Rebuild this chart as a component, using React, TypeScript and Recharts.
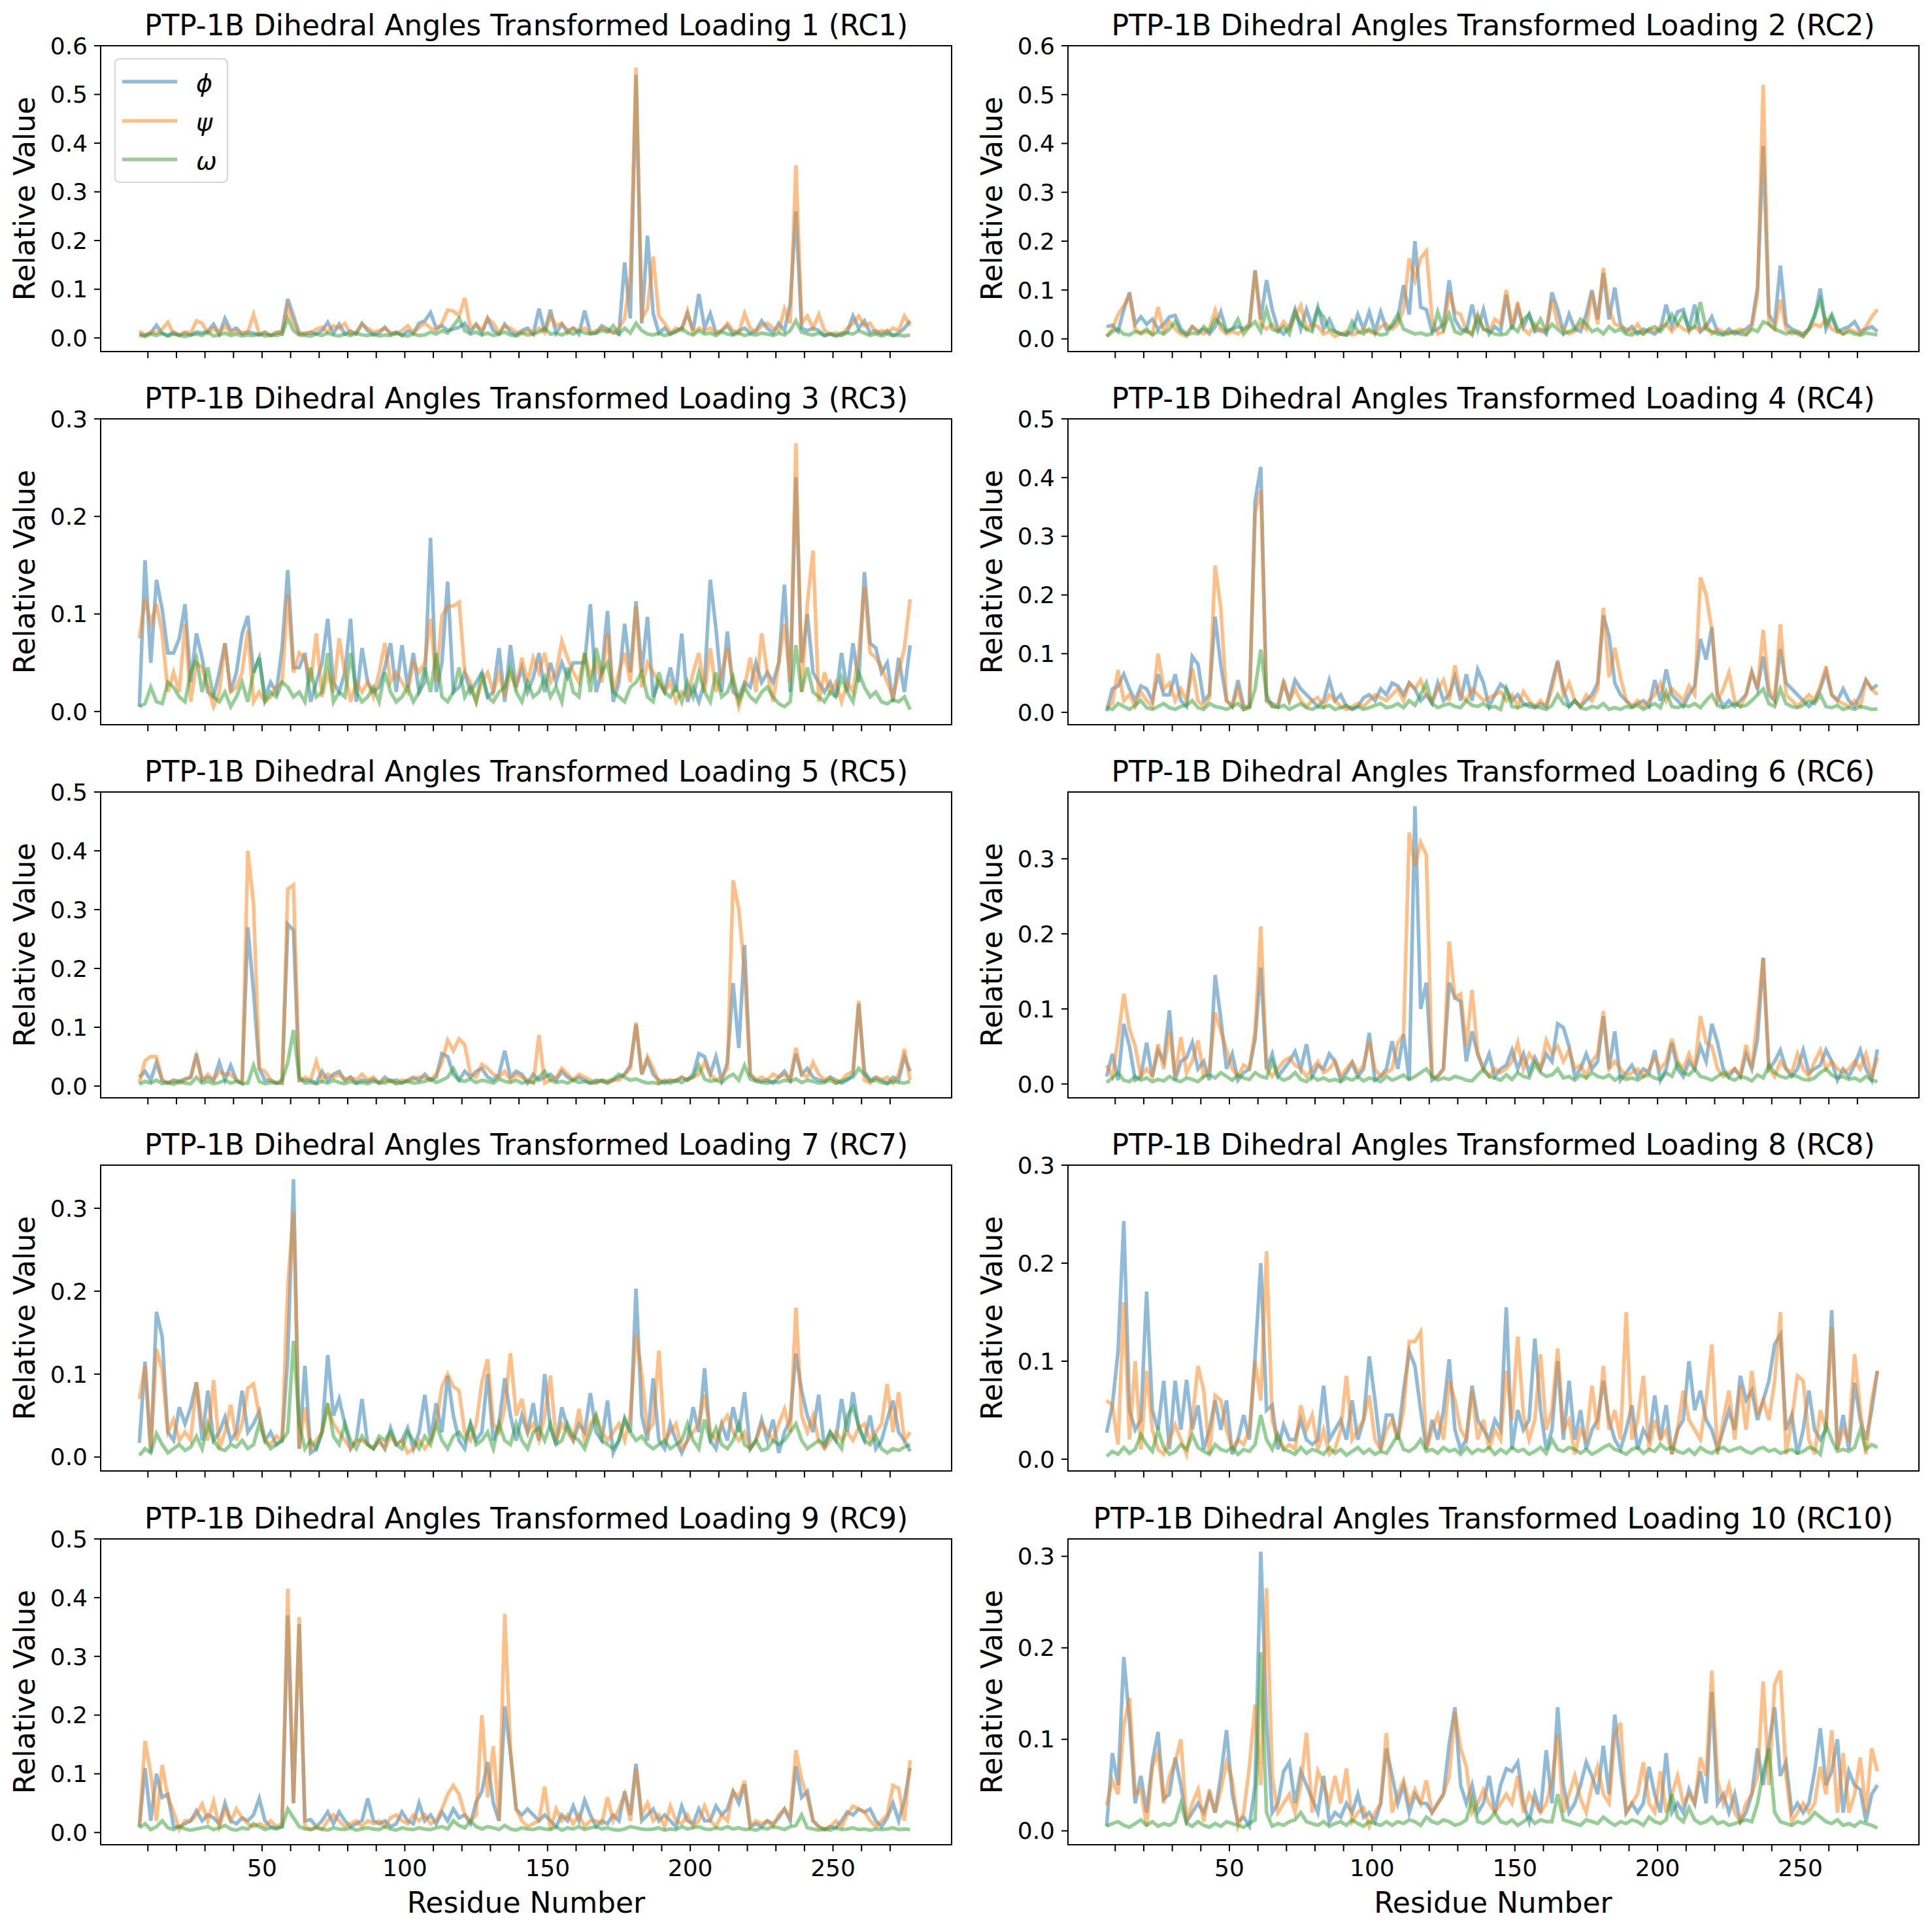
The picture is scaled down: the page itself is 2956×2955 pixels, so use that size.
import { LineChart, Line, XAxis, YAxis, ReferenceArea } from 'recharts'

// residue numbers sampled (every other residue)
const residues = [
  7, 9, 11, 13, 15, 17, 19, 21, 23, 25, 27, 29, 31, 33, 35, 37, 39, 41, 43, 45,
  47, 49, 51, 53, 55, 57, 59, 61, 63, 65, 67, 69, 71, 73, 75, 77, 79, 81, 83, 85,
  87, 89, 91, 93, 95, 97, 99, 101, 103, 105, 107, 109, 111, 113, 115, 117, 119, 121, 123, 125,
  127, 129, 131, 133, 135, 137, 139, 141, 143, 145, 147, 149, 151, 153, 155, 157, 159, 161, 163, 165,
  167, 169, 171, 173, 175, 177, 179, 181, 183, 185, 187, 189, 191, 193, 195, 197, 199, 201, 203, 205,
  207, 209, 211, 213, 215, 217, 219, 221, 223, 225, 227, 229, 231, 233, 235, 237, 239, 241, 243, 245,
  247, 249, 251, 253, 255, 257, 259, 261, 263, 265, 267, 269, 271, 273, 275, 277,
]

const xTicks = [10, 20, 30, 40, 50, 60, 70, 80, 90, 100, 110, 120, 130, 140, 150, 160, 170, 180, 190, 200, 210, 220, 230, 240, 250, 260, 270]

// values in thousandths
const rc1Phi = [
  8, 6, 10, 26, 9, 5, 12, 6, 10, 6, 12, 10, 14, 28, 8, 40, 15, 20, 8, 12,
  10, 6, 12, 5, 10, 14, 80, 45, 10, 8, 12, 8, 15, 32, 10, 28, 8, 14, 8, 30,
  15, 6, 10, 22, 8, 12, 5, 14, 10, 30, 35, 52, 20, 25, 15, 18, 22, 30, 12, 28,
  10, 40, 15, 8, 28, 12, 6, 15, 20, 8, 60, 12, 58, 10, 28, 15, 20, 8, 56, 10,
  10, 25, 18, 12, 8, 155, 40, 540, 30, 210, 50, 10, 20, 8, 15, 20, 50, 15, 90, 20,
  50, 10, 15, 25, 8, 15, 20, 10, 15, 35, 20, 10, 30, 15, 70, 260, 20, 15, 20, 15,
  5, 8, 5, 10, 12, 45, 20, 35, 10, 15, 8, 15, 5, 10, 20, 35,
]
const rc1Psi = [
  14, 5, 12, 10, 18, 32, 8, 6, 12, 10, 35, 30, 10, 20, 8, 25, 10, 15, 10, 12,
  48, 8, 10, 5, 12, 8, 65, 30, 8, 10, 10, 18, 22, 12, 25, 20, 30, 8, 12, 28,
  20, 12, 15, 20, 10, 8, 15, 25, 10, 22, 30, 20, 15, 30, 57, 55, 45, 82, 20, 28,
  15, 40, 30, 10, 25, 20, 12, 10, 15, 8, 20, 10, 45, 25, 30, 10, 20, 15, 20, 10,
  15, 20, 15, 10, 20, 40, 125, 555, 40, 60, 167, 45, 30, 10, 20, 15, 55, 10, 20, 15,
  20, 10, 15, 30, 15, 10, 50, 20, 12, 25, 30, 20, 15, 60, 30, 355, 30, 45, 20, 48,
  15, 8, 10, 5, 20, 30, 45, 25, 30, 10, 15, 10, 20, 15, 45, 25,
]
const rc1Omega = [
  5, 3, 8, 5, 10, 4, 8, 5, 3, 6, 8, 5, 12, 4, 6, 10, 5, 8, 4, 6,
  5, 8, 4, 6, 5, 8, 40, 15, 6, 5, 4, 8, 5, 10, 6, 4, 8, 5, 10, 6,
  5, 8, 4, 6, 5, 10, 6, 4, 8, 5, 6, 12, 8, 15, 10, 25, 40, 15, 8, 12,
  6, 10, 5, 8, 12, 6, 4, 10, 6, 8, 12, 20, 8, 10, 6, 12, 8, 15, 10, 8,
  10, 15, 12, 25, 8, 20, 10, 30, 15, 8, 6, 10, 5, 8, 12, 20, 10, 6, 15, 8,
  10, 5, 12, 8, 6, 10, 5, 8, 6, 10, 8, 5, 10, 6, 15, 35, 12, 8, 6, 10,
  5, 8, 4, 6, 10, 8, 15, 10, 5, 8, 4, 8, 5, 6, 4, 6,
]

const rc2Phi = [
  25, 28, 15, 60, 95, 30, 45, 30, 40, 20, 30, 45, 48, 20, 10, 25, 15, 20, 10, 25,
  55, 15, 20, 25, 20, 30, 140, 40, 120, 60, 20, 10, 25, 60, 20, 60, 25, 65, 20, 40,
  15, 10, 8, 15, 50, 20, 55, 15, 55, 20, 25, 40, 110, 50, 200, 65, 60, 15, 20, 30,
  120, 40, 20, 15, 70, 20, 60, 10, 25, 15, 90, 20, 65, 25, 50, 15, 20, 10, 95, 60,
  15, 50, 20, 15, 50, 100, 40, 135, 40, 105, 30, 15, 25, 10, 20, 15, 10, 20, 70, 25,
  55, 60, 20, 70, 15, 25, 45, 15, 10, 20, 10, 15, 20, 30, 105, 395, 50, 30, 150, 30,
  20, 15, 10, 20, 45, 103, 20, 45, 15, 20, 25, 35, 15, 20, 25, 15,
]
const rc2Psi = [
  5, 20, 50, 68, 88, 20, 10, 15, 10, 65, 15, 35, 20, 10, 5, 25, 15, 10, 20, 58,
  20, 10, 15, 10, 20, 25, 140, 30, 20, 30, 15, 35, 20, 45, 68, 20, 30, 25, 10, 15,
  5, 10, 15, 8, 12, 20, 15, 10, 25, 30, 20, 30, 60, 165, 120, 165, 180, 40, 10, 15,
  95, 55, 50, 15, 10, 50, 20, 15, 40, 30, 100, 25, 75, 20, 10, 30, 15, 20, 80, 30,
  20, 10, 15, 30, 20, 95, 30, 145, 60, 30, 25, 20, 15, 30, 10, 20, 15, 25, 30, 15,
  30, 20, 15, 25, 15, 30, 10, 20, 15, 10, 15, 20, 10, 25, 90, 520, 30, 20, 80, 20,
  10, 15, 5, 20, 30, 25, 40, 20, 15, 10, 20, 15, 10, 25, 45, 60,
]
const rc2Omega = [
  5, 15, 20, 10, 8, 15, 12, 20, 8, 15, 10, 20, 35, 15, 8, 12, 10, 25, 15, 40,
  30, 15, 20, 40, 10, 25, 35, 15, 60, 20, 15, 25, 10, 55, 30, 20, 15, 60, 45, 20,
  15, 10, 8, 35, 15, 10, 20, 12, 8, 10, 30, 50, 20, 15, 10, 12, 8, 10, 55, 20,
  50, 15, 10, 20, 8, 45, 20, 15, 10, 8, 10, 25, 15, 40, 50, 20, 40, 15, 30, 20,
  10, 15, 20, 40, 30, 15, 20, 10, 25, 15, 20, 10, 8, 15, 10, 20, 25, 15, 30, 50,
  30, 50, 20, 25, 75, 20, 15, 10, 8, 12, 15, 10, 8, 20, 15, 35, 30, 20, 15, 10,
  15, 10, 5, 20, 50, 80, 30, 50, 20, 10, 15, 10, 8, 12, 10, 8,
]

const rc3Phi = [
  5, 155, 50, 135, 105, 60, 60, 75, 110, 30, 80, 55, 20, 15, 40, 70, 20, 40, 80, 98,
  40, 55, 15, 30, 20, 65, 145, 45, 45, 60, 10, 30, 50, 95, 30, 20, 40, 95, 10, 65,
  30, 20, 25, 45, 70, 20, 68, 25, 60, 20, 30, 178, 20, 50, 133, 20, 25, 40, 20, 30,
  40, 15, 20, 65, 10, 68, 25, 45, 20, 35, 60, 20, 50, 30, 50, 35, 50, 50, 50, 110,
  20, 40, 103, 10, 30, 90, 40, 113, 40, 97, 15, 30, 20, 45, 20, 80, 10, 25, 10, 30,
  135, 85, 20, 82, 20, 15, 30, 25, 50, 30, 40, 30, 50, 130, 20, 240, 50, 100, 40, 30,
  20, 30, 15, 60, 20, 70, 30, 143, 70, 65, 40, 50, 10, 55, 20, 68,
]
const rc3Psi = [
  75, 115, 90, 110, 80, 20, 40, 20, 90, 10, 50, 45, 25, 5, 20, 70, 20, 25, 40, 83,
  10, 20, 10, 15, 25, 30, 120, 40, 60, 55, 30, 80, 15, 40, 20, 75, 40, 10, 30, 20,
  30, 15, 40, 70, 30, 40, 30, 20, 50, 40, 50, 95, 30, 98, 108, 108, 112, 40, 30, 10,
  30, 40, 20, 40, 15, 40, 25, 55, 30, 55, 40, 60, 30, 40, 72, 55, 40, 30, 60, 35,
  50, 30, 80, 20, 40, 60, 30, 108, 25, 50, 40, 30, 20, 30, 10, 20, 15, 40, 60, 20,
  65, 20, 40, 65, 30, 5, 25, 55, 20, 80, 40, 10, 50, 90, 30, 275, 20, 110, 165, 10,
  40, 20, 30, 10, 30, 20, 60, 128, 60, 55, 45, 30, 15, 40, 65, 115,
]
const rc3Omega = [
  5, 8, 25, 10, 8, 30, 25, 15, 10, 40, 55, 20, 45, 15, 10, 20, 5, 15, 30, 10,
  40, 55, 10, 20, 15, 30, 25, 15, 20, 10, 45, 15, 20, 60, 10, 20, 15, 60, 20, 10,
  15, 25, 10, 40, 20, 10, 15, 25, 10, 20, 45, 20, 60, 15, 10, 20, 45, 15, 25, 10,
  40, 15, 10, 20, 25, 45, 20, 10, 30, 15, 20, 35, 15, 25, 10, 45, 20, 15, 60, 20,
  65, 40, 50, 20, 15, 10, 25, 30, 40, 15, 10, 40, 20, 15, 25, 10, 30, 15, 40, 20,
  10, 40, 15, 20, 35, 10, 25, 15, 10, 20, 25, 15, 8, 5, 10, 68, 20, 45, 20, 15,
  10, 20, 15, 35, 20, 10, 40, 25, 15, 20, 10, 8, 12, 10, 15, 2,
]

const rc4Phi = [
  2, 40, 45, 65, 40, 20, 45, 40, 20, 65, 30, 30, 65, 20, 10, 95, 82, 20, 30, 163,
  80, 20, 10, 55, 10, 10, 360, 418, 20, 15, 10, 50, 20, 55, 40, 30, 20, 10, 20, 55,
  20, 30, 10, 5, 10, 25, 30, 20, 40, 30, 50, 45, 30, 50, 40, 20, 30, 15, 50, 20,
  30, 60, 20, 65, 20, 73, 50, 10, 30, 48, 40, 20, 30, 15, 10, 8, 15, 10, 50, 88,
  40, 10, 20, 10, 20, 30, 50, 165, 130, 50, 30, 20, 10, 15, 20, 10, 55, 20, 73, 30,
  20, 10, 30, 45, 125, 90, 145, 30, 10, 20, 10, 20, 30, 68, 40, 95, 30, 20, 108, 50,
  40, 30, 20, 10, 20, 40, 70, 30, 20, 40, 20, 10, 30, 55, 40, 47,
]
const rc4Psi = [
  8, 15, 72, 20, 30, 10, 35, 20, 10, 100, 40, 50, 20, 40, 20, 75, 20, 10, 25, 250,
  177, 20, 10, 40, 5, 10, 340, 378, 20, 10, 10, 55, 20, 40, 20, 10, 20, 25, 10, 30,
  20, 10, 5, 10, 15, 10, 20, 30, 25, 20, 30, 40, 20, 50, 40, 55, 30, 20, 40, 55,
  20, 80, 30, 20, 40, 30, 20, 25, 30, 35, 20, 30, 10, 35, 20, 10, 20, 10, 40, 85,
  30, 50, 20, 10, 30, 20, 40, 178, 60, 110, 60, 20, 10, 20, 10, 20, 30, 50, 20, 40,
  30, 20, 45, 30, 230, 200, 140, 20, 40, 68, 20, 10, 30, 70, 40, 140, 40, 20, 150, 30,
  20, 10, 20, 30, 20, 45, 78, 30, 20, 15, 10, 20, 10, 55, 40, 30,
]
const rc4Omega = [
  8, 5, 15, 10, 5, 12, 20, 8, 5, 10, 15, 8, 5, 10, 12, 20, 8, 5, 15, 10,
  8, 5, 10, 15, 5, 8, 40, 107, 30, 10, 8, 12, 5, 10, 15, 8, 5, 10, 8, 12,
  5, 8, 12, 6, 10, 5, 8, 12, 15, 8, 10, 15, 8, 20, 12, 30, 50, 15, 8, 12,
  15, 10, 8, 20, 12, 10, 15, 8, 10, 5, 40, 10, 8, 12, 15, 10, 8, 5, 12, 30,
  15, 10, 20, 8, 5, 10, 8, 15, 5, 8, 5, 10, 8, 12, 5, 10, 15, 8, 35, 10,
  8, 12, 10, 15, 8, 20, 30, 12, 8, 10, 15, 10, 12, 20, 30, 40, 15, 10, 40, 15,
  10, 8, 12, 20, 15, 30, 10, 8, 12, 5, 8, 5, 10, 8, 5, 6,
]

const rc5Phi = [
  15, 25, 10, 40, 10, 5, 10, 8, 12, 15, 55, 10, 15, 10, 40, 10, 35, 10, 5, 270,
  160, 30, 10, 10, 5, 5, 275, 265, 10, 10, 10, 5, 25, 10, 20, 25, 10, 15, 5, 10,
  8, 12, 5, 15, 8, 10, 5, 10, 15, 10, 20, 10, 15, 55, 50, 20, 10, 25, 15, 25,
  30, 15, 10, 20, 60, 15, 25, 20, 5, 20, 10, 15, 20, 10, 25, 15, 10, 15, 10, 5,
  10, 8, 5, 10, 15, 20, 35, 105, 20, 45, 20, 10, 5, 10, 8, 15, 10, 20, 55, 50,
  20, 50, 10, 40, 175, 65, 240, 20, 10, 8, 10, 5, 15, 25, 10, 55, 20, 30, 15, 10,
  8, 15, 10, 5, 10, 20, 140, 25, 10, 15, 10, 5, 15, 10, 50, 25,
]
const rc5Psi = [
  5, 43, 50, 50, 10, 5, 8, 5, 10, 15, 50, 10, 20, 10, 25, 20, 20, 10, 5, 400,
  310, 30, 25, 10, 5, 5, 335, 342, 10, 15, 10, 42, 10, 20, 15, 20, 10, 15, 10, 20,
  10, 15, 5, 10, 8, 5, 10, 8, 12, 15, 15, 10, 20, 40, 78, 60, 80, 70, 20, 15,
  37, 30, 20, 15, 25, 10, 20, 15, 10, 5, 87, 5, 10, 15, 30, 20, 10, 20, 15, 10,
  5, 10, 5, 10, 10, 20, 30, 108, 20, 50, 30, 5, 10, 8, 10, 15, 10, 15, 20, 40,
  20, 10, 15, 30, 350, 300, 195, 20, 10, 15, 10, 20, 15, 20, 10, 65, 20, 15, 40, 20,
  10, 15, 5, 10, 20, 25, 145, 10, 5, 15, 10, 15, 5, 20, 63, 10,
]
const rc5Omega = [
  3, 8, 5, 10, 4, 6, 3, 8, 5, 4, 15, 5, 8, 4, 6, 10, 5, 8, 4, 5,
  35, 8, 4, 6, 5, 10, 40, 95, 15, 5, 6, 4, 8, 5, 10, 6, 4, 8, 5, 6,
  4, 8, 6, 5, 10, 4, 6, 8, 5, 6, 8, 12, 6, 10, 15, 30, 10, 8, 12, 6,
  10, 8, 5, 12, 8, 6, 10, 5, 8, 6, 15, 25, 10, 6, 8, 5, 10, 6, 8, 5,
  6, 10, 8, 12, 20, 15, 10, 12, 8, 5, 6, 4, 8, 5, 10, 6, 12, 15, 35, 12,
  8, 10, 6, 15, 20, 10, 35, 12, 8, 6, 5, 8, 6, 10, 8, 12, 6, 10, 8, 5,
  6, 10, 5, 8, 12, 15, 30, 20, 8, 10, 6, 4, 8, 6, 5, 8,
]

const rc6Phi = [
  10, 40, 5, 80, 50, 5, 10, 55, 10, 45, 30, 98, 5, 30, 35, 55, 20, 30, 5, 145,
  87, 20, 40, 5, 15, 20, 60, 155, 20, 40, 10, 20, 30, 43, 20, 53, 10, 25, 20, 40,
  30, 5, 15, 28, 10, 20, 68, 5, 10, 20, 57, 20, 66, 5, 370, 100, 135, 5, 10, 20,
  135, 115, 110, 30, 70, 40, 20, 40, 10, 20, 25, 45, 20, 40, 15, 35, 20, 40, 30, 80,
  75, 50, 10, 20, 40, 20, 30, 90, 20, 70, 5, 15, 25, 10, 20, 15, 45, 5, 20, 55,
  20, 10, 30, 20, 50, 30, 80, 55, 20, 10, 20, 10, 40, 20, 60, 168, 20, 30, 45, 20,
  10, 20, 45, 15, 20, 25, 45, 30, 5, 20, 10, 25, 45, 20, 5, 46,
]
const rc6Psi = [
  25, 10, 60, 120, 73, 50, 10, 20, 10, 53, 20, 70, 10, 62, 15, 30, 58, 10, 20, 95,
  70, 45, 20, 10, 25, 20, 70, 210, 20, 10, 20, 30, 35, 25, 20, 10, 20, 30, 15, 20,
  30, 10, 20, 30, 15, 25, 57, 20, 10, 15, 20, 55, 65, 335, 290, 322, 305, 10, 10, 20,
  190, 115, 120, 50, 125, 40, 20, 10, 20, 15, 20, 30, 55, 20, 40, 30, 20, 58, 40, 50,
  30, 45, 20, 25, 10, 30, 40, 97, 20, 30, 20, 10, 15, 20, 10, 20, 35, 20, 30, 60,
  30, 20, 40, 20, 90, 55, 50, 20, 10, 15, 20, 10, 52, 20, 90, 168, 20, 10, 30, 20,
  15, 40, 20, 10, 30, 45, 20, 30, 20, 15, 20, 30, 20, 40, 10, 35,
]
const rc6Omega = [
  2, 8, 15, 5, 3, 10, 5, 8, 3, 6, 4, 10, 5, 3, 8, 6, 3, 10, 12, 8,
  15, 10, 5, 12, 8, 6, 15, 10, 8, 30, 10, 5, 8, 15, 6, 3, 10, 5, 8, 4,
  6, 3, 8, 5, 10, 4, 8, 6, 3, 10, 5, 8, 12, 6, 10, 15, 20, 10, 5, 8,
  6, 10, 8, 5, 4, 12, 20, 10, 8, 5, 12, 6, 15, 10, 8, 27, 15, 10, 12, 20,
  8, 10, 5, 12, 8, 15, 10, 8, 12, 5, 10, 6, 8, 5, 10, 12, 8, 6, 15, 10,
  27, 15, 12, 20, 10, 8, 5, 10, 15, 8, 5, 10, 8, 4, 12, 8, 25, 15, 10, 8,
  12, 10, 6, 5, 8, 15, 20, 12, 8, 10, 6, 8, 4, 10, 5, 3,
]

const rc7Phi = [
  17, 115, 5, 175, 145, 30, 20, 60, 40, 60, 90, 20, 80, 20, 30, 48, 20, 30, 80, 30,
  40, 55, 20, 30, 15, 20, 120, 335, 10, 110, 5, 10, 30, 123, 50, 70, 40, 10, 20, 70,
  15, 10, 20, 10, 35, 15, 20, 35, 10, 30, 75, 20, 65, 30, 98, 50, 20, 10, 40, 20,
  30, 100, 20, 40, 95, 50, 20, 50, 30, 65, 20, 100, 35, 15, 60, 35, 20, 40, 30, 77,
  30, 20, 68, 5, 20, 45, 30, 203, 50, 20, 95, 20, 10, 40, 20, 5, 20, 60, 30, 107,
  20, 10, 40, 20, 60, 30, 78, 10, 20, 45, 20, 45, 5, 30, 45, 125, 80, 50, 30, 75,
  10, 30, 20, 70, 30, 78, 35, 20, 50, 10, 20, 45, 68, 30, 20, 7,
]
const rc7Psi = [
  70, 110, 10, 130, 105, 30, 45, 20, 30, 20, 90, 40, 20, 93, 10, 30, 63, 20, 40, 83,
  88, 50, 20, 15, 25, 20, 207, 295, 10, 60, 10, 20, 30, 60, 40, 30, 20, 10, 20, 20,
  15, 10, 20, 10, 25, 15, 20, 5, 10, 20, 10, 20, 40, 85, 100, 85, 80, 30, 20, 40,
  90, 118, 40, 30, 60, 125, 50, 70, 30, 40, 20, 50, 98, 20, 40, 30, 20, 58, 20, 40,
  50, 30, 20, 30, 40, 20, 50, 148, 100, 30, 40, 128, 20, 30, 40, 10, 20, 30, 40, 75,
  30, 20, 40, 50, 30, 20, 30, 10, 20, 40, 30, 20, 40, 58, 30, 180, 50, 30, 50, 20,
  10, 20, 30, 20, 30, 20, 35, 40, 20, 30, 40, 88, 30, 78, 20, 30,
]
const rc7Omega = [
  2, 10, 5, 28, 15, 5, 10, 15, 8, 12, 25, 10, 40, 20, 10, 8, 15, 12, 20, 10,
  15, 40, 20, 10, 15, 20, 30, 140, 40, 10, 20, 10, 30, 65, 25, 15, 40, 20, 10, 25,
  15, 10, 25, 20, 30, 15, 10, 30, 20, 10, 25, 15, 40, 20, 10, 25, 30, 20, 40, 15,
  20, 30, 10, 40, 20, 15, 40, 20, 10, 30, 35, 20, 40, 15, 20, 40, 25, 20, 10, 30,
  50, 20, 15, 10, 20, 47, 30, 20, 25, 15, 10, 15, 20, 10, 15, 20, 40, 20, 10, 45,
  20, 35, 15, 10, 20, 40, 15, 10, 20, 8, 10, 20, 15, 20, 30, 40, 20, 10, 15, 20,
  15, 30, 20, 10, 50, 60, 38, 20, 15, 25, 10, 5, 10, 8, 12, 15,
]

const rc8Phi = [
  27, 55, 110, 243, 50, 30, 40, 171, 50, 30, 80, 10, 80, 30, 81, 30, 55, 10, 30, 60,
  30, 60, 5, 20, 45, 20, 105, 200, 50, 55, 10, 35, 20, 20, 40, 20, 15, 20, 75, 20,
  30, 40, 20, 60, 20, 40, 105, 60, 10, 45, 45, 20, 70, 110, 95, 50, 10, 40, 20, 50,
  102, 30, 10, 20, 75, 40, 30, 20, 40, 30, 155, 10, 50, 30, 40, 123, 50, 10, 30, 100,
  20, 80, 20, 50, 10, 30, 40, 80, 40, 20, 10, 30, 55, 10, 30, 20, 65, 20, 55, 5,
  30, 40, 100, 50, 70, 40, 30, 10, 30, 50, 30, 85, 60, 70, 40, 60, 80, 117, 127, 30,
  45, 5, 30, 70, 30, 20, 30, 152, 10, 45, 10, 78, 40, 20, 50, 90,
]
const rc8Psi = [
  60, 55, 15, 160, 20, 100, 10, 90, 30, 10, 5, 20, 35, 20, 5, 40, 95, 70, 5, 65,
  60, 30, 10, 20, 15, 30, 100, 60, 212, 40, 20, 10, 15, 10, 55, 30, 45, 10, 30, 5,
  10, 30, 85, 20, 30, 40, 65, 20, 10, 30, 40, 20, 50, 120, 120, 130, 10, 30, 45, 20,
  80, 60, 30, 20, 70, 20, 40, 10, 30, 20, 90, 40, 125, 45, 20, 40, 107, 30, 50, 113,
  30, 40, 5, 30, 20, 75, 30, 95, 30, 50, 20, 150, 20, 40, 85, 10, 40, 20, 30, 5,
  30, 70, 40, 30, 20, 60, 117, 5, 40, 70, 20, 75, 30, 90, 45, 60, 40, 80, 150, 5,
  40, 85, 80, 20, 5, 50, 30, 135, 10, 30, 20, 107, 50, 5, 60, 90,
]
const rc8Omega = [
  3, 8, 5, 12, 6, 10, 25, 15, 8, 30, 12, 5, 8, 15, 10, 25, 12, 8, 5, 15,
  10, 8, 12, 5, 10, 8, 15, 45, 20, 10, 25, 10, 8, 5, 12, 6, 10, 8, 5, 12,
  6, 10, 4, 8, 12, 6, 10, 5, 8, 6, 15, 25, 10, 8, 12, 20, 8, 10, 6, 12,
  8, 10, 5, 12, 6, 10, 8, 12, 5, 10, 6, 12, 8, 10, 5, 8, 12, 6, 20, 10,
  8, 12, 10, 6, 10, 5, 8, 12, 15, 10, 8, 5, 10, 12, 6, 10, 8, 15, 10, 12,
  8, 6, 10, 5, 12, 8, 6, 10, 12, 8, 10, 12, 8, 6, 10, 12, 8, 10, 6, 8,
  10, 6, 8, 12, 10, 5, 35, 20, 8, 10, 8, 12, 30, 10, 15, 12,
]

const rc9Phi = [
  10, 110, 20, 100, 60, 65, 10, 10, 15, 20, 37, 20, 30, 25, 15, 50, 20, 15, 25, 20,
  30, 58, 20, 10, 8, 10, 370, 50, 355, 20, 22, 10, 20, 35, 15, 35, 20, 10, 15, 20,
  58, 20, 15, 20, 10, 15, 35, 20, 15, 50, 20, 30, 15, 35, 20, 40, 25, 30, 15, 52,
  70, 120, 50, 20, 215, 135, 40, 30, 40, 30, 20, 30, 20, 10, 30, 20, 45, 20, 55, 30,
  10, 20, 15, 30, 20, 70, 30, 117, 20, 30, 40, 20, 30, 20, 10, 45, 20, 15, 40, 20,
  20, 45, 30, 40, 70, 50, 82, 10, 15, 10, 20, 15, 25, 40, 20, 113, 60, 70, 20, 10,
  5, 10, 8, 20, 35, 30, 40, 35, 40, 20, 10, 25, 50, 20, 55, 110,
]
const rc9Psi = [
  10, 156, 100, 20, 115, 60, 35, 5, 20, 20, 30, 48, 20, 53, 10, 40, 20, 40, 25, 15,
  10, 15, 10, 20, 10, 15, 415, 50, 367, 10, 5, 10, 5, 20, 30, 20, 10, 15, 20, 10,
  20, 15, 20, 10, 25, 30, 20, 15, 30, 20, 30, 15, 20, 40, 65, 80, 65, 30, 20, 30,
  200, 60, 147, 20, 372, 140, 40, 20, 10, 15, 20, 78, 5, 40, 20, 30, 15, 30, 10, 20,
  20, 15, 60, 20, 40, 65, 20, 110, 30, 50, 20, 30, 10, 45, 20, 15, 30, 10, 20, 45,
  20, 10, 30, 20, 70, 60, 88, 10, 20, 15, 20, 10, 30, 40, 25, 140, 90, 60, 20, 10,
  5, 10, 20, 10, 30, 45, 40, 35, 20, 10, 20, 30, 80, 75, 20, 123,
]
const rc9Omega = [
  8, 15, 5, 10, 20, 8, 5, 10, 6, 4, 6, 8, 10, 5, 8, 12, 6, 4, 8, 6,
  15, 10, 5, 8, 6, 10, 40, 25, 10, 6, 5, 8, 6, 4, 8, 6, 5, 8, 4, 6,
  8, 6, 5, 10, 6, 4, 8, 6, 5, 8, 6, 5, 8, 10, 6, 20, 12, 8, 20, 10,
  6, 10, 8, 5, 12, 6, 4, 8, 6, 5, 8, 6, 5, 10, 4, 8, 6, 10, 5, 8,
  10, 6, 8, 5, 4, 6, 10, 8, 6, 5, 6, 8, 4, 6, 5, 10, 6, 8, 10, 6,
  5, 8, 6, 10, 6, 8, 5, 6, 4, 8, 6, 10, 8, 5, 10, 12, 30, 8, 6, 4,
  6, 4, 8, 5, 6, 8, 5, 6, 4, 6, 5, 6, 8, 5, 6, 5,
]

const rc10Phi = [
  5, 85, 50, 190, 120, 30, 60, 20, 75, 108, 35, 40, 80, 50, 10, 20, 30, 20, 40, 20,
  60, 110, 40, 10, 15, 5, 50, 305, 120, 20, 30, 65, 75, 30, 65, 50, 35, 20, 60, 10,
  20, 15, 30, 20, 40, 15, 20, 10, 30, 90, 60, 30, 50, 20, 40, 30, 30, 20, 30, 40,
  95, 135, 50, 30, 50, 20, 30, 60, 20, 50, 68, 65, 75, 30, 10, 40, 20, 88, 30, 135,
  50, 20, 30, 50, 75, 60, 40, 93, 40, 127, 70, 20, 30, 20, 30, 70, 40, 20, 85, 20,
  30, 20, 45, 30, 65, 30, 152, 30, 40, 20, 40, 10, 20, 40, 90, 50, 95, 135, 60, 75,
  20, 30, 20, 30, 65, 112, 50, 65, 100, 20, 65, 50, 45, 10, 40, 50,
]
const rc10Psi = [
  28, 55, 40, 115, 145, 40, 45, 5, 70, 85, 30, 60, 75, 100, 10, 30, 45, 10, 45, 20,
  45, 75, 55, 5, 20, 70, 138, 50, 265, 60, 20, 30, 40, 20, 50, 107, 20, 65, 50, 30,
  60, 30, 68, 10, 20, 25, 5, 20, 30, 107, 20, 40, 55, 30, 45, 30, 55, 20, 30, 40,
  60, 130, 90, 70, 20, 30, 45, 30, 20, 30, 40, 30, 60, 20, 40, 30, 20, 30, 55, 105,
  20, 40, 60, 35, 20, 50, 70, 40, 30, 104, 118, 20, 30, 40, 75, 30, 20, 65, 20, 40,
  60, 30, 40, 30, 80, 60, 175, 55, 30, 50, 20, 10, 30, 40, 60, 163, 50, 160, 175, 60,
  10, 20, 30, 20, 30, 70, 40, 110, 20, 85, 20, 40, 80, 20, 90, 65,
]
const rc10Omega = [
  5, 8, 10, 6, 4, 8, 12, 6, 10, 5, 8, 6, 10, 30, 8, 5, 10, 6, 4, 8,
  5, 10, 8, 6, 4, 8, 12, 195, 20, 5, 8, 6, 10, 12, 20, 10, 8, 6, 10, 5,
  8, 10, 6, 12, 8, 5, 10, 8, 6, 10, 6, 10, 8, 12, 10, 6, 15, 10, 8, 12,
  10, 6, 8, 12, 35, 10, 8, 12, 20, 10, 8, 12, 6, 10, 15, 8, 12, 10, 10, 40,
  12, 10, 8, 6, 12, 10, 8, 15, 10, 6, 10, 8, 12, 10, 6, 15, 10, 8, 12, 40,
  15, 10, 25, 12, 8, 10, 15, 8, 10, 6, 8, 10, 12, 10, 30, 65, 90, 20, 10, 8,
  6, 10, 8, 12, 20, 15, 10, 8, 12, 6, 8, 5, 10, 8, 6, 3,
]

const ticks03 = [0, 0.1, 0.2, 0.3]
const ticks05 = [0, 0.1, 0.2, 0.3, 0.4, 0.5]
const ticks06 = [0, 0.1, 0.2, 0.3, 0.4, 0.5, 0.6]

const panels = [
  { n: 1, phi: rc1Phi, psi: rc1Psi, omega: rc1Omega, domain: [-0.028, 0.6], ticks: ticks06 },
  { n: 2, phi: rc2Phi, psi: rc2Psi, omega: rc2Omega, domain: [-0.026, 0.6], ticks: ticks06 },
  { n: 3, phi: rc3Phi, psi: rc3Psi, omega: rc3Omega, domain: [-0.0135, 0.3], ticks: ticks03 },
  { n: 4, phi: rc4Phi, psi: rc4Psi, omega: rc4Omega, domain: [-0.021, 0.5], ticks: ticks05 },
  { n: 5, phi: rc5Phi, psi: rc5Psi, omega: rc5Omega, domain: [-0.02, 0.5], ticks: ticks05 },
  { n: 6, phi: rc6Phi, psi: rc6Psi, omega: rc6Omega, domain: [-0.0185, 0.389], ticks: ticks03 },
  { n: 7, phi: rc7Phi, psi: rc7Psi, omega: rc7Omega, domain: [-0.0168, 0.352], ticks: ticks03 },
  { n: 8, phi: rc8Phi, psi: rc8Psi, omega: rc8Omega, domain: [-0.012, 0.3], ticks: ticks03 },
  { n: 9, phi: rc9Phi, psi: rc9Psi, omega: rc9Omega, domain: [-0.0208, 0.5], ticks: ticks05 },
  { n: 10, phi: rc10Phi, psi: rc10Psi, omega: rc10Omega, domain: [-0.0152, 0.319], ticks: ticks03 },
]

const FONT = '"DejaVu Sans", sans-serif'
const X_DOMAIN = [-6.55, 291.55]
const PLOT_W = 1302
const PLOT_H = 468
const AXIS_W = 154
const XAXIS_H = 70
const TOP_PAD = 30
const COL_X = [154, 1633.5]
const ROW_Y = [69.5, 640.8, 1212.1, 1783.4, 2354.7]
const BLUE = '#1f77b4'
const ORANGE = '#ff7f0e'
const GREEN = '#2ca02c'
const LW = 5.5

function Legend1() {
  const items = [
    { label: 'ϕ', color: BLUE, y: 34 },
    { label: 'ψ', color: ORANGE, y: 94 },
    { label: 'ω', color: GREEN, y: 153 },
  ]
  return (
    <div
      style={{
        position: 'absolute', left: 175, top: 89, width: 170, height: 187,
        border: '2px solid #d6d6d6', borderRadius: 8, background: 'rgba(255,255,255,0.8)',
      }}
    >
      <svg width={170} height={187} style={{ position: 'absolute', left: 0, top: 0 }}>
        {items.map((it) => (
          <g key={it.label}>
            <line x1={10} x2={94} y1={it.y} y2={it.y} stroke={it.color} strokeOpacity={0.5} strokeWidth={LW} />
            <text x={123} y={it.y + 15} fontSize={38} fontStyle="italic" fontFamily={FONT} fill="#000">{it.label}</text>
          </g>
        ))}
      </svg>
    </div>
  )
}

function Panel({ p, x0, y0, bottom }: any) {
  const data = residues.map((r, i) => ({ r, phi: p.phi[i] / 1000, psi: p.psi[i] / 1000, omega: p.omega[i] / 1000 }))
  const tickStyle = { fontSize: 36, fill: '#000', fontFamily: FONT }
  return (
    <>
      <div style={{ position: 'absolute', left: x0 - AXIS_W, top: y0 - TOP_PAD }}>
        <LineChart
          width={AXIS_W + PLOT_W + 2} height={TOP_PAD + PLOT_H + XAXIS_H} data={data}
          margin={{ top: TOP_PAD, right: 2, bottom: 0, left: 0 }}
        >
          <XAxis
            type="number" dataKey="r" domain={X_DOMAIN} allowDataOverflow ticks={xTicks} interval={0}
            tickFormatter={(v) => (bottom && v % 50 === 0 ? String(v) : '')}
            tickSize={10} tickMargin={12} height={XAXIS_H} axisLine={false}
            tickLine={{ stroke: '#000', strokeWidth: 2 }} tick={tickStyle}
          />
          <YAxis
            type="number" domain={p.domain} allowDataOverflow ticks={p.ticks} interval={0}
            tickFormatter={(v) => Number(v).toFixed(1)} width={AXIS_W} tickSize={10} tickMargin={10}
            axisLine={false} tickLine={{ stroke: '#000', strokeWidth: 2 }} tick={tickStyle}
          />
          <Line type="linear" dataKey="phi" stroke={BLUE} strokeOpacity={0.5} strokeWidth={LW} dot={false} isAnimationActive={false} />
          <Line type="linear" dataKey="psi" stroke={ORANGE} strokeOpacity={0.5} strokeWidth={LW} dot={false} isAnimationActive={false} />
          <Line type="linear" dataKey="omega" stroke={GREEN} strokeOpacity={0.5} strokeWidth={LW} dot={false} isAnimationActive={false} />
          <ReferenceArea
            x1={X_DOMAIN[0]} x2={X_DOMAIN[1]} y1={p.domain[0]} y2={p.domain[1]}
            fill="none" fillOpacity={0} stroke="#000" strokeWidth={2} ifOverflow="visible"
          />
        </LineChart>
      </div>
      <div
        style={{
          position: 'absolute', left: x0 - 100, width: PLOT_W + 200, top: y0 - 53, height: 44,
          fontSize: 44, lineHeight: '44px', fontFamily: FONT, textAlign: 'center', whiteSpace: 'nowrap', color: '#000',
        }}
      >
        {`PTP-1B Dihedral Angles Transformed Loading ${p.n} (RC${p.n})`}
      </div>
      <div
        style={{
          position: 'absolute', left: x0 - AXIS_W + 38 - PLOT_H / 2, top: y0 + PLOT_H / 2 - 22, width: PLOT_H, height: 44,
          fontSize: 44, lineHeight: '44px', fontFamily: FONT, textAlign: 'center', whiteSpace: 'nowrap',
          transform: 'rotate(-90deg)', transformOrigin: 'center', color: '#000',
        }}
      >
        Relative Value
      </div>
      {bottom && (
        <div
          style={{
            position: 'absolute', left: x0, width: PLOT_W, top: y0 + PLOT_H + 67, height: 44,
            fontSize: 44, lineHeight: '44px', fontFamily: FONT, textAlign: 'center', whiteSpace: 'nowrap', color: '#000',
          }}
        >
          Residue Number
        </div>
      )}
    </>
  )
}

export default function App() {
  return (
    <div style={{ position: 'absolute', left: 0, top: 0, width: 2956, height: 2955, background: '#fff', overflow: 'hidden' }}>
      {panels.map((p, i) => (
        <Panel key={p.n} p={p} x0={COL_X[i % 2]} y0={ROW_Y[Math.floor(i / 2)]} bottom={i >= 8} />
      ))}
      <Legend1 />
    </div>
  )
}
